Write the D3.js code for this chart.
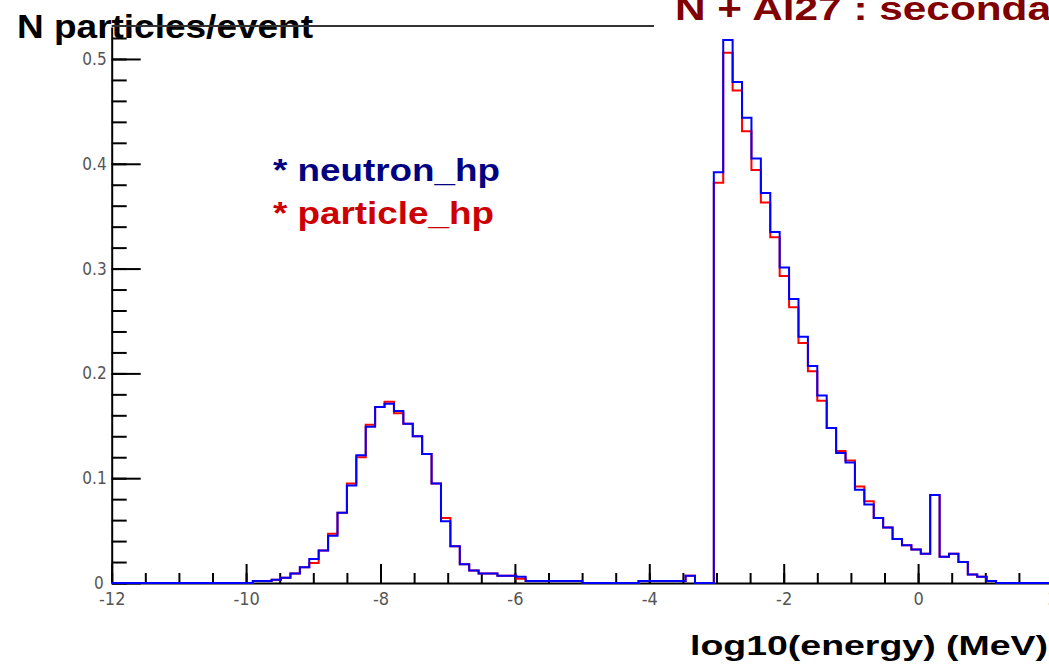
<!DOCTYPE html>
<html>
<head>
<meta charset="utf-8">
<script src="https://cdn.jsdelivr.net/npm/d3@7"></script>
<style>
  body { margin: 0; background: #fff; }
  svg { display: block; }
  .tick-label { font-family: "Liberation Sans Narrow", "DejaVu Sans Condensed", "Liberation Sans", Arial, sans-serif; fill: #555; }
  .bold { font-family: "Liberation Sans", Arial, sans-serif; font-weight: bold; }
</style>
</head>
<body>
<div id="chart"></div>
<script>
// histogram binning: 100 bins of log10(E) from -12 to 2
const binLow = -12
const binWidth = 0.14
const nBins = 100

// N particles/event per bin, neutron_hp (blue)
const neutronHp = [
  0, 0, 0, 0, 0, 0, 0, 0, 0, 0,
  0, 0, 0, 0, 0, 0.002, 0.002, 0.003, 0.005, 0.009,
  0.015, 0.023, 0.031, 0.045, 0.067, 0.093, 0.122, 0.149, 0.168, 0.171,
  0.164, 0.152, 0.140, 0.123, 0.095, 0.059, 0.035, 0.018, 0.012, 0.009,
  0.009, 0.007, 0.007, 0.006, 0.002, 0.002, 0.002, 0.002, 0.002, 0.002,
  0, 0, 0, 0, 0, 0, 0.002, 0.002, 0.002, 0.002,
  0.002, 0.007, 0, 0, 0.392, 0.518, 0.478, 0.444, 0.405, 0.372,
  0.335, 0.301, 0.271, 0.235, 0.207, 0.179, 0.148, 0.124, 0.115, 0.089,
  0.075, 0.062, 0.053, 0.042, 0.036, 0.032, 0.028, 0.084, 0.025, 0.028,
  0.020, 0.008, 0.006, 0.002, 0, 0, 0, 0, 0, 0
]

// N particles/event per bin, particle_hp (red)
const particleHp = [
  0, 0, 0, 0, 0, 0, 0, 0, 0, 0,
  0, 0, 0, 0, 0, 0.002, 0.002, 0.003, 0.005, 0.009,
  0.015, 0.019, 0.031, 0.047, 0.067, 0.095, 0.120, 0.151, 0.168, 0.173,
  0.162, 0.152, 0.140, 0.123, 0.095, 0.062, 0.035, 0.018, 0.012, 0.009,
  0.009, 0.007, 0.007, 0.004, 0.002, 0.002, 0.002, 0.002, 0.002, 0.002,
  0, 0, 0, 0, 0, 0, 0.002, 0.002, 0.002, 0.002,
  0.002, 0.007, 0, 0, 0.382, 0.506, 0.470, 0.431, 0.394, 0.363,
  0.330, 0.293, 0.263, 0.229, 0.202, 0.174, 0.148, 0.126, 0.117, 0.092,
  0.078, 0.062, 0.053, 0.042, 0.036, 0.032, 0.028, 0.084, 0.025, 0.028,
  0.020, 0.008, 0.006, 0.002, 0, 0, 0, 0, 0, 0
]

const xMajorTicks = [-12, -10, -8, -6, -4, -2, 0, 2]
const yMajorTicks = [0, 0.1, 0.2, 0.3, 0.4, 0.5]

const width = 1049
const height = 670

const svg = d3
  .select('#chart')
  .append('svg')
  .attr('width', width)
  .attr('height', height)

const x = d3.scaleLinear().domain([-12, 2]).range([111.7, 1052.5])
const y = d3.scaleLinear().domain([0, 0.5305]).range([583, 27])

// y axis
const yMinor = svg
  .append('g')
  .attr('transform', `translate(${x(-12)},0)`)
  .call(
    d3.axisLeft(y)
      .tickValues(d3.range(0, 0.531, 0.02))
      .tickSize(-15)
      .tickSizeOuter(0)
      .tickFormat('')
  )
yMinor.select('.domain').remove()

const yAxis = svg
  .append('g')
  .attr('transform', `translate(${x(-12)},0)`)
  .call(
    d3.axisLeft(y)
      .tickValues(yMajorTicks)
      .tickSize(-29)
      .tickSizeOuter(0)
      .tickPadding(5)
      .tickFormat(d => (d === 0 ? '0' : d3.format('.1f')(d)))
  )

// x axis
const xMinor = svg
  .append('g')
  .attr('transform', `translate(0,${y(0)})`)
  .call(
    d3.axisBottom(x)
      .tickValues(d3.range(-12, 2.01, 0.5))
      .tickSize(-10)
      .tickSizeOuter(0)
      .tickFormat('')
  )
xMinor.select('.domain').remove()

const xAxis = svg
  .append('g')
  .attr('transform', `translate(0,${y(0)})`)
  .call(
    d3.axisBottom(x)
      .tickValues(xMajorTicks)
      .tickSize(-19)
      .tickSizeOuter(0)
      .tickPadding(9)
      .tickFormat(d => String(d))
  )

svg.selectAll('.domain, .tick line')
  .attr('stroke', '#000')
  .attr('stroke-width', 2)

yAxis.selectAll('text')
  .attr('class', 'tick-label')
  .attr('font-size', 17)
xAxis.selectAll('text')
  .attr('class', 'tick-label')
  .attr('font-size', 18)

// the zero label sits a little further left in the original
yAxis.selectAll('.tick')
  .filter(d => d === 0)
  .select('text')
  .attr('x', -8)

// histograms as step lines
const edges = d3.range(nBins + 1).map(i => binLow + i * binWidth)

const step = d3
  .line()
  .x(d => x(d[0]))
  .y(d => y(d[1]))
  .curve(d3.curveStepAfter)

function histPoints(values) {
  const pts = values.map((v, i) => [edges[i], v])
  pts.push([edges[nBins], values[nBins - 1]])
  return pts
}

svg
  .append('path')
  .datum(histPoints(particleHp))
  .attr('d', step)
  .attr('fill', 'none')
  .attr('stroke', '#ff0000')
  .attr('stroke-width', 2)

svg
  .append('path')
  .datum(histPoints(neutronHp))
  .attr('d', step)
  .attr('fill', 'none')
  .attr('stroke', '#0000ff')
  .attr('stroke-width', 2)

// titles
svg
  .append('text')
  .attr('class', 'bold')
  .attr('x', 17)
  .attr('y', 38)
  .attr('font-size', 33)
  .attr('textLength', 296)
  .attr('lengthAdjust', 'spacingAndGlyphs')
  .attr('fill', '#000')
  .text('N particles/event')

// frame top edge, stops where the title box begins
svg
  .append('line')
  .attr('x1', x(-12))
  .attr('x2', 654)
  .attr('y1', y.range()[1] - 1)
  .attr('y2', y.range()[1] - 1)
  .attr('stroke', '#333')
  .attr('stroke-width', 2)

svg
  .append('text')
  .attr('class', 'bold')
  .attr('x', 675)
  .attr('y', 20)
  .attr('font-size', 34)
  .attr('textLength', 376)
  .attr('lengthAdjust', 'spacingAndGlyphs')
  .attr('fill', '#800000')
  .text('N + Al27 : seconda')

svg
  .append('text')
  .attr('class', 'bold')
  .attr('x', 690)
  .attr('y', 655)
  .attr('font-size', 28)
  .attr('textLength', 358)
  .attr('lengthAdjust', 'spacingAndGlyphs')
  .attr('fill', '#000')
  .text('log10(energy) (MeV)')

// legend
const legend = [
  { label: '* neutron_hp', color: '#000080', len: 227 },
  { label: '* particle_hp', color: '#cc0000', len: 221 }
]

svg
  .selectAll('.legend')
  .data(legend)
  .enter()
  .append('text')
  .attr('class', 'bold legend')
  .attr('x', 273)
  .attr('y', (d, i) => 181 + i * 43)
  .attr('font-size', 31)
  .attr('textLength', d => d.len)
  .attr('lengthAdjust', 'spacingAndGlyphs')
  .attr('fill', d => d.color)
  .text(d => d.label)
</script>
</body>
</html>
